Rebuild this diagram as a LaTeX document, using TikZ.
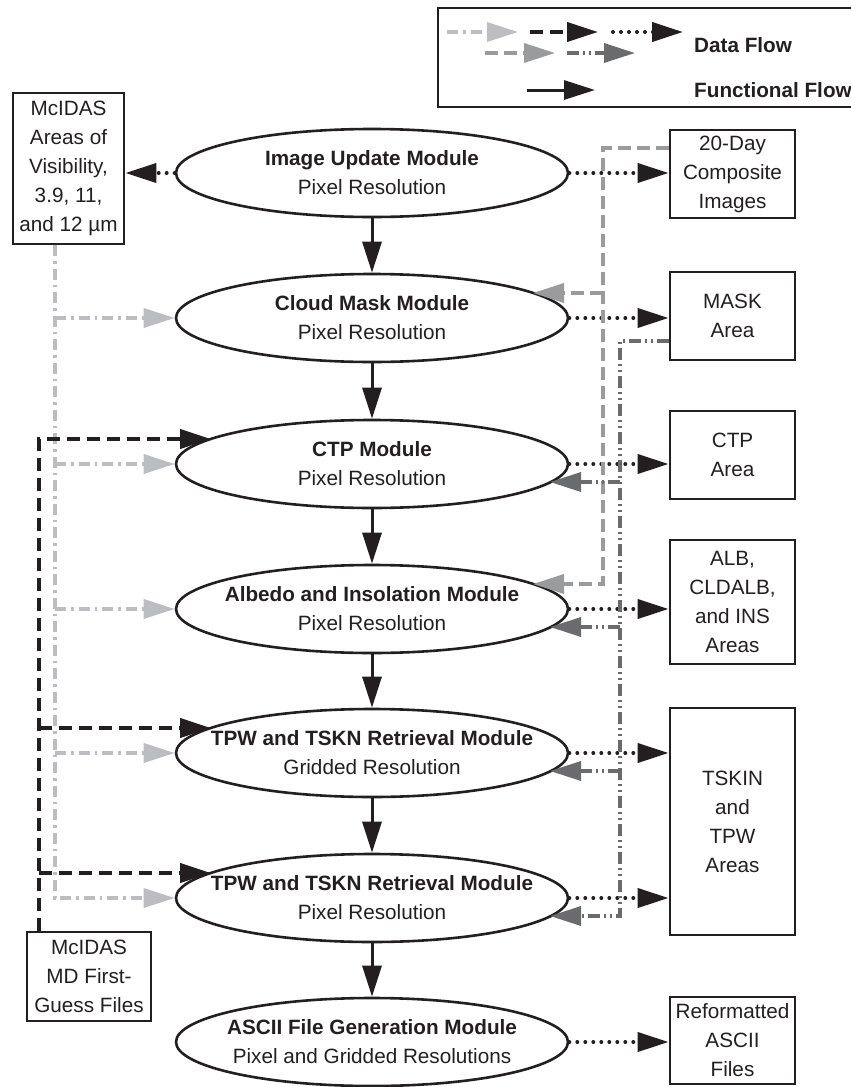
\documentclass[tikz,border=0pt]{standalone}
\usepackage{fontspec}
\setmainfont{Liberation Sans}
\usetikzlibrary{arrows.meta,shapes.geometric,calc}
\definecolor{ink}{HTML}{231F20}
\definecolor{lgray}{HTML}{BCBDC0}
\definecolor{mgray}{HTML}{9A9B9D}
\definecolor{dgray}{HTML}{6A6B6D}
\begin{document}
\begin{tikzpicture}[x=1pt,y=-1pt,
  txt/.style={font=\fontsize{20.7}{29}\selectfont, text=ink},
  module/.style={ellipse, draw=ink, line width=2.6pt, minimum width=392pt, minimum height=88pt, inner xsep=-60pt, inner ysep=-12pt, align=center, txt},
  store/.style={draw=ink, line width=2.8pt, inner sep=0pt, align=center, txt},
  tip/.style={-{Triangle[length=31pt,width=19pt]}},
  funcflow/.style={ink, line width=3pt, tip},
  dotflow/.style={ink, line width=4pt, line cap=round, dash pattern=on 0pt off 8pt, tip},
  bkflow/.style={ink, line width=4pt, dash pattern=on 13pt off 7pt, tip},
  lgflow/.style={lgray, line width=3.5pt, dash pattern=on 11pt off 5pt on 2.5pt off 5pt, tip},
  mgflow/.style={mgray, line width=3.5pt, dash pattern=on 13pt off 6pt, tip},
  dgflow/.style={dgray, line width=3.5pt, dash pattern=on 12pt off 4pt on 2pt off 4pt on 2pt off 4pt, tip}
]
\useasboundingbox (0,0) rectangle (851,1087);

% legend
\node[draw=ink, line width=2.8pt, minimum width=414pt, minimum height=99pt, inner sep=0pt] (legend) at (645,57.5) {};
\coordinate (l1a) at (447,32); \coordinate (l1b) at (518,32);
\coordinate (l2a) at (530,32); \coordinate (l2b) at (598,32);
\coordinate (l3a) at (613,32); \coordinate (l3b) at (683,32);
\coordinate (l4a) at (485,53); \coordinate (l4b) at (555,53);
\coordinate (l5a) at (567,53); \coordinate (l5b) at (635,53);
\coordinate (l6a) at (527,90); \coordinate (l6b) at (595,90);
\draw[lgflow] (l1a) -- (l1b);
\draw[bkflow] (l2a) -- (l2b);
\draw[dotflow] (l3a) -- (l3b);
\draw[mgflow] (l4a) -- (l4b);
\draw[dgflow] (l5a) -- (l5b);
\draw[funcflow] (l6a) -- (l6b);
\node[txt, anchor=west, inner sep=0pt] (ldata) at (694,45) {\bfseries Data Flow};
\node[txt, anchor=west, inner sep=0pt] (lfunc) at (694,90) {\bfseries Functional Flow};

% modules
\node[module] (img) at (372,173) {{\bfseries Image Update Module}\\Pixel Resolution};
\node[module] (cloud) at (372,318) {{\bfseries Cloud Mask Module}\\Pixel Resolution};
\node[module] (ctp) at (372,464) {{\bfseries CTP Module}\\Pixel Resolution};
\node[module] (albedo) at (372,609) {{\bfseries Albedo and Insolation Module}\\Pixel Resolution};
\node[module] (tpwg) at (372,753) {{\bfseries TPW and TSKN Retrieval Module}\\Gridded Resolution};
\node[module] (tpwp) at (372,898) {{\bfseries TPW and TSKN Retrieval Module}\\Pixel Resolution};
\node[module] (ascii) at (372,1042) {{\bfseries ASCII File Generation Module}\\Pixel and Gridded Resolutions};

% left stores
\node[store, minimum width=111pt, minimum height=151pt] (vis) at (68.5,168.5) {McIDAS\\Areas of\\Visibility,\\3.9, 11,\\and 12 µm};
\node[store, minimum width=124pt, minimum height=89pt] (md) at (89,976.5) {McIDAS\\MD First-\\Guess Files};

% right stores
\node[store, minimum width=125pt, minimum height=88pt] (day20) at (732.5,174) {20-Day\\Composite\\Images};
\node[store, minimum width=125pt, minimum height=88pt] (mask) at (732.5,316) {MASK\\Area};
\node[store, minimum width=125pt, minimum height=88pt] (ctpa) at (732.5,455) {CTP\\Area};
\node[store, minimum width=125pt, minimum height=124pt] (alb) at (732.5,602) {ALB,\\CLDALB,\\and INS\\Areas};
\node[store, minimum width=125pt, minimum height=227pt] (tskin) at (732.5,821.5) {TSKIN\\and\\TPW\\Areas};
\node[store, minimum width=125pt, minimum height=87pt] (refmt) at (732.5,1040.5) {Reformatted\\ASCII\\Files};

% functional flow
\draw[funcflow] (img.south) -- (cloud.north);
\draw[funcflow] (cloud.south) -- (ctp.north);
\draw[funcflow] (ctp.south) -- (albedo.north);
\draw[funcflow] (albedo.south) -- (tpwg.north);
\draw[funcflow] (tpwg.south) -- (tpwp.north);
\draw[funcflow] (tpwp.south) -- (ascii.north);

% dotted outputs
\draw[dotflow] (img.west) -- (img.west -| vis.east);
\draw[dotflow] (img.east) -- (img.east -| day20.west);
\draw[dotflow] (cloud.east) -- (cloud.east -| mask.west);
\draw[dotflow] (ctp.east) -- (ctp.east -| ctpa.west);
\draw[dotflow] (albedo.east) -- (albedo.east -| alb.west);
\draw[dotflow] (tpwg.east) -- (tpwg.east -| tskin.west);
\draw[dotflow] (tpwp.east) -- (tpwp.east -| tskin.west);
\draw[dotflow] (ascii.east) -- (ascii.east -| refmt.west);

% light gray inputs from visibility areas
\coordinate (gx) at (55,0);
\draw[lgflow] (vis.south -| gx) -- (gx |- tpwp.west) -- (tpwp.west);
\draw[lgflow] (gx |- cloud.west) -- (cloud.west);
\draw[lgflow] (gx |- ctp.west) -- (ctp.west);
\draw[lgflow] (gx |- albedo.west) -- (albedo.west);
\draw[lgflow] (gx |- tpwg.west) -- (tpwg.west);

% black dashed inputs from first-guess files
\coordinate (bx) at (39,0);
\coordinate (ctpin) at ($(ctp.center)+(-161,-25)$);
\coordinate (tpwgin) at ($(tpwg.center)+(-161,-25)$);
\coordinate (tpwpin) at ($(tpwp.center)+(-161,-25)$);
\draw[bkflow] (md.north -| bx) -- (bx |- ctpin) -- (ctpin);
\draw[bkflow] (bx |- tpwgin) -- (tpwgin);
\draw[bkflow] (bx |- tpwpin) -- (tpwpin);

% medium gray from composite images
\coordinate (mx) at (603,0);
\coordinate (day20w) at ($(day20.west)+(0,-26)$);
\coordinate (cloudin) at ($(cloud.center)+(161,-25)$);
\coordinate (albin) at ($(albedo.center)+(161,-25)$);
\draw[mgflow] (day20w) -- (mx |- day20w) -- (mx |- albin) -- (albin);
\draw[mgflow] (mx |- cloudin) -- (cloudin);

% dark gray from mask
\coordinate (dx) at (620,0);
\coordinate (maskw) at ($(mask.west)+(0,25)$);
\coordinate (ctpin2) at ($(ctp.center)+(178,18)$);
\coordinate (albin2) at ($(albedo.center)+(178,18)$);
\coordinate (tpwgin2) at ($(tpwg.center)+(178,18)$);
\coordinate (tpwpin2) at ($(tpwp.center)+(178,18)$);
\draw[dgflow] (maskw) -- (dx |- maskw) -- (dx |- tpwpin2) -- (tpwpin2);
\draw[dgflow] (dx |- ctpin2) -- (ctpin2);
\draw[dgflow] (dx |- albin2) -- (albin2);
\draw[dgflow] (dx |- tpwgin2) -- (tpwgin2);
\end{tikzpicture}
\end{document}
